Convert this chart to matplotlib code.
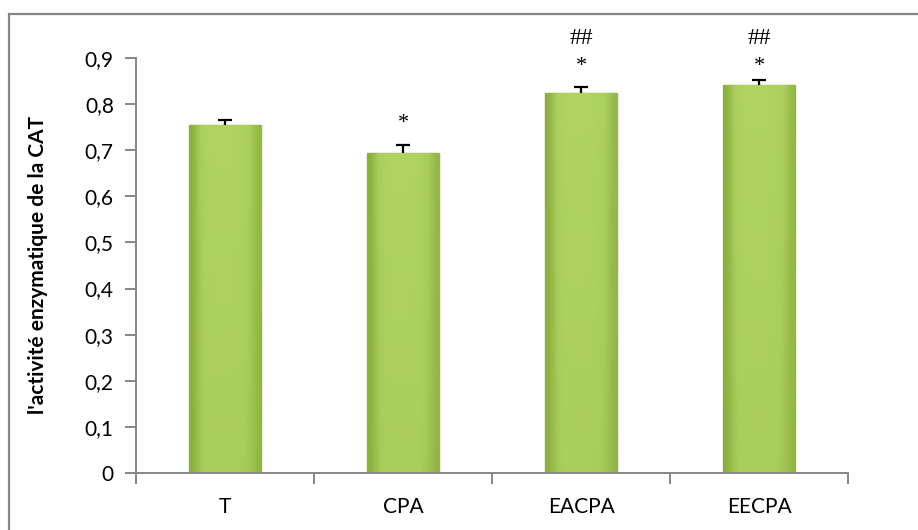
import matplotlib
matplotlib.use("Agg")
import matplotlib.pyplot as plt
from matplotlib.patches import Rectangle
from matplotlib.colors import LinearSegmentedColormap
import numpy as np

categories = ["T", "CPA", "EACPA", "EECPA"]
values = [0.755, 0.695, 0.825, 0.842]
errors = [0.011, 0.017, 0.012, 0.010]
marks_star = ["", "*", "*", "*"]
marks_hash = ["", "", "##", "##"]
yticks = [0, 0.1, 0.2, 0.3, 0.4, 0.5, 0.6, 0.7, 0.8, 0.9]

plt.rcParams["font.family"] = ["Lato", "DejaVu Sans"]

fig = plt.figure(figsize=(9.18, 5.30), dpi=100)
ax = fig.add_axes([136 / 918, 57 / 530, 712 / 918, 415 / 530])

x = np.arange(len(categories))
width = 0.41
bars = ax.bar(x, values, width=width, color="#a5c957", edgecolor="#86a53e",
              linewidth=1.0, zorder=2)

# soft shading inside each bar: darker toward the sides and the bottom
green = LinearSegmentedColormap.from_list("g", ["#8aad3f", "#a9cd5b", "#b6d86a"])
sx = np.array([0.0, 0.6, 0.75, 0.75, 0.75, 0.75, 0.7, 0.55, 0.15])
sy = np.linspace(0.75, 1.0, 20)[:, None]
for b in bars:
    im = ax.imshow(sy * sx[None, :], cmap=green, vmin=0, vmax=1, aspect="auto",
                   interpolation="bicubic", origin="lower",
                   extent=[b.get_x(), b.get_x() + b.get_width(), 0, b.get_height()],
                   zorder=2.1)
    im.set_clip_path(b)

# upper error bars only (lower half hidden in the bar)
cap = 0.04
for i, v in enumerate(values):
    ax.vlines(x[i], v, v + errors[i], color="black", linewidth=1.6, zorder=3)
    ax.hlines(v + errors[i], x[i] - cap, x[i] + cap, color="black",
              linewidth=1.6, zorder=3)

# significance marks; bars carrying ## share one row of marks
tops = [v + e for v, e in zip(values, errors)]
row = max(t for t, h in zip(tops, marks_hash) if h)
for i in range(len(values)):
    base = row if marks_hash[i] else tops[i]
    if marks_star[i]:
        ax.text(i, base + (0.03 if marks_hash[i] else 0.045), marks_star[i],
                ha="center", va="center", fontsize=16,
                family="Liberation Serif", clip_on=False)
    if marks_hash[i]:
        ax.text(i, base + 0.09, marks_hash[i], ha="center", va="center",
                fontsize=17, family="Liberation Serif", clip_on=False)

ax.set_xlim(-0.5, len(categories) - 0.5)
ax.set_ylim(0, 0.9)
ax.set_yticks(yticks)
ax.set_yticklabels([("%.1f" % t).replace(".", ",") if t else "0" for t in yticks],
                   fontsize=15)
ax.set_xticks(x)
ax.set_xticklabels(categories, fontsize=15)
ax.set_xticks(np.arange(-0.5, len(categories)), minor=True)
ax.tick_params(axis="x", which="major", length=0, pad=17)
ax.tick_params(axis="x", which="minor", length=8, color="#868686", width=1.4)
ax.tick_params(axis="y", length=8, color="#868686", width=1.4, pad=8)

for side in ["top", "right"]:
    ax.spines[side].set_visible(False)
for side in ["left", "bottom"]:
    ax.spines[side].set_color("#868686")
    ax.spines[side].set_linewidth(1.4)

ax.set_ylabel("l'activité enzymatique de la CAT", fontsize=15, fontweight="bold")
ax.yaxis.set_label_coords(-(136 - 48) / 712, 0.5)

fig.patches.append(Rectangle((8.5 / 918, -0.1), 1.2, (530 - 13.5) / 530 + 0.1,
                             transform=fig.transFigure, fill=False,
                             edgecolor="#868686", linewidth=1.6))

fig.savefig("out.png", dpi=100)
